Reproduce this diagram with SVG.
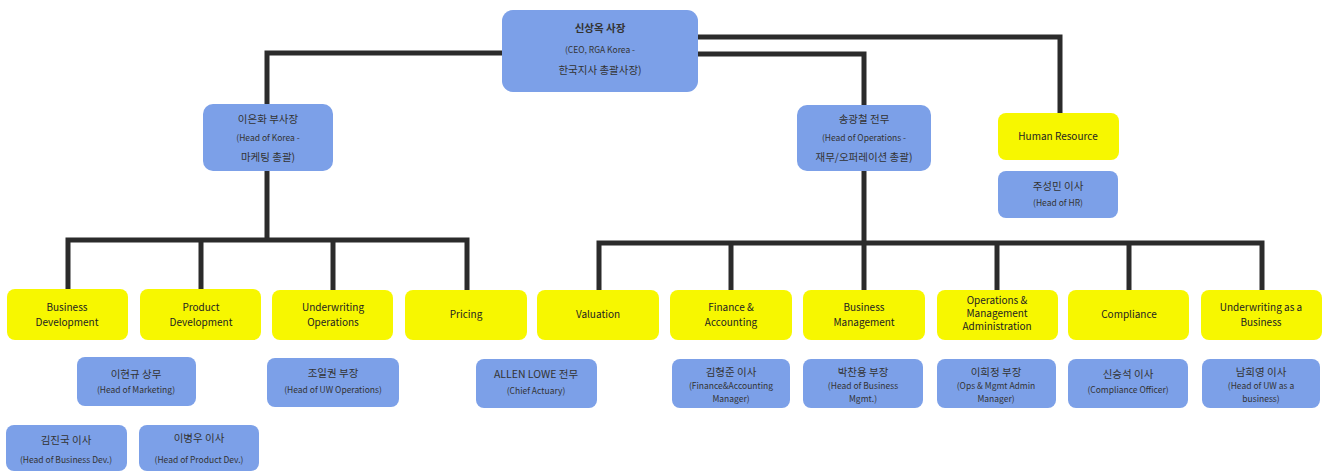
<svg xmlns="http://www.w3.org/2000/svg" width="1326" height="472" viewBox="0 0 1326 472">
<style>
.b{fill:#7ca0e8}
.y{fill:#f7f700}
text{font-family:"Noto Sans CJK KR","Liberation Sans",sans-serif;fill:#333;text-anchor:middle}
.t{font-size:10px;fill:#222}
.k{font-size:10.5px}
.e{font-size:8.5px}
.c{stroke:#2b2b2b;stroke-width:5;fill:none;stroke-linejoin:miter}
</style>
<rect width="1326" height="472" fill="#fff"/>
<g id="connectors" class="c">
<path d="M502 53 H267 V104"/>
<path d="M698 37 H1060 V113"/>
<path d="M698 54 H864 V105"/>
<path d="M267 171 V240"/>
<path d="M68 290 V240 H467 V290"/>
<path d="M201 240 V290"/>
<path d="M333 240 V290"/>
<path d="M864 171 V243"/>
<path d="M599 290 V243 H1262 V290"/>
<path d="M731 243 V290"/>
<path d="M864 243 V290"/>
<path d="M997 243 V290"/>
<path d="M1129 243 V290"/>
</g>
<g id="ceo"><rect class="b" x="502" y="10" width="196" height="82" rx="11"/>
<text class="k" x="600" y="32" font-weight="bold">신상옥 사장</text>
<text class="e" x="600" y="53">(CEO, RGA Korea -</text>
<text class="k" x="600" y="74">한국지사 총괄사장)</text></g>
<g id="korea"><rect class="b" x="203" y="104" width="130" height="67" rx="10"/>
<text class="k" x="268" y="123">이은화 부사장</text>
<text class="e" x="268" y="141">(Head of Korea -</text>
<text class="k" x="268" y="161">마케팅 총괄)</text></g>
<g id="ops"><rect class="b" x="797" y="105" width="134" height="66" rx="10"/>
<text class="k" x="864" y="123">송광철 전무</text>
<text class="e" x="864" y="141">(Head of Operations -</text>
<text class="k" x="864" y="161">재무/오퍼레이션 총괄)</text></g>
<g id="hr"><rect class="y" x="998" y="113" width="121" height="47" rx="8"/>
<text class="t" x="1058" y="140">Human Resource</text></g>
<g id="hr-head"><rect class="b" x="998" y="171" width="120" height="47" rx="8"/>
<text class="k" x="1058" y="190">주성민 이사</text>
<text class="e" x="1058" y="206">(Head of HR)</text></g>
<g id="bd"><rect class="y" x="7" y="289" width="121" height="51" rx="8"/>
<text class="t" x="67" y="311">Business</text><text class="t" x="67" y="326">Development</text></g>
<g id="pd"><rect class="y" x="140" y="289" width="121" height="51" rx="8"/>
<text class="t" x="201" y="311">Product</text><text class="t" x="201" y="326">Development</text></g>
<g id="uo"><rect class="y" x="272" y="290" width="121" height="50" rx="8"/>
<text class="t" x="333" y="311">Underwriting</text><text class="t" x="333" y="326">Operations</text></g>
<g id="pricing"><rect class="y" x="405" y="290" width="122" height="50" rx="8"/>
<text class="t" x="466" y="318">Pricing</text></g>
<g id="valuation"><rect class="y" x="537" y="290" width="122" height="50" rx="8"/>
<text class="t" x="598" y="318">Valuation</text></g>
<g id="fa"><rect class="y" x="670" y="290" width="122" height="50" rx="8"/>
<text class="t" x="731" y="311">Finance &amp;</text><text class="t" x="731" y="326">Accounting</text></g>
<g id="bm"><rect class="y" x="803" y="290" width="122" height="50" rx="8"/>
<text class="t" x="864" y="311">Business</text><text class="t" x="864" y="326">Management</text></g>
<g id="oma"><rect class="y" x="937" y="290" width="121" height="50" rx="8"/>
<text class="t" x="997" y="304" font-size="8.5">Operations &amp;</text><text class="t" x="997" y="317" font-size="8.5">Management</text><text class="t" x="997" y="330" font-size="8.5">Administration</text></g>
<g id="compliance"><rect class="y" x="1068" y="290" width="121" height="50" rx="8"/>
<text class="t" x="1129" y="318">Compliance</text></g>
<g id="uwb"><rect class="y" x="1201" y="290" width="121" height="50" rx="8"/>
<text class="t" x="1261" y="311">Underwriting as a</text><text class="t" x="1261" y="326">Business</text></g>
<g id="marketing"><rect class="b" x="77" y="357" width="119" height="49" rx="8"/>
<text class="k" x="136" y="378">이현규 상무</text><text class="e" x="136" y="393">(Head of Marketing)</text></g>
<g id="bd-head"><rect class="b" x="6" y="425" width="121" height="46" rx="8"/>
<text class="k" x="66" y="444">김진국 이사</text><text class="e" x="66" y="463">(Head of Business Dev.)</text></g>
<g id="pd-head"><rect class="b" x="139" y="425" width="120" height="46" rx="8"/>
<text class="k" x="199" y="442">이병우 이사</text><text class="e" x="199" y="463">(Head of Product Dev.)</text></g>
<g id="uo-head"><rect class="b" x="267" y="358" width="132" height="49" rx="8"/>
<text class="k" x="333" y="377">조일권 부장</text><text class="e" x="333" y="393">(Head of UW Operations)</text></g>
<g id="actuary"><rect class="b" x="476" y="359" width="121" height="49" rx="8"/>
<text class="k" x="536" y="378">ALLEN LOWE 전무</text><text class="e" x="536" y="394">(Chief Actuary)</text></g>
<g id="fa-head"><rect class="b" x="672" y="359" width="118" height="49" rx="8"/>
<text class="k" x="731" y="376">김형준 이사</text><text class="e" x="731" y="389">(Finance&amp;Accounting</text><text class="e" x="731" y="402">Manager)</text></g>
<g id="bm-head"><rect class="b" x="803" y="359" width="120" height="49" rx="8"/>
<text class="k" x="863" y="376">박찬용 부장</text><text class="e" x="863" y="389">(Head of Business</text><text class="e" x="863" y="402">Mgmt.)</text></g>
<g id="oma-head"><rect class="b" x="937" y="359" width="119" height="49" rx="8"/>
<text class="k" x="996" y="376">이희정 부장</text><text class="e" x="996" y="389">(Ops &amp; Mgmt Admin</text><text class="e" x="996" y="402">Manager)</text></g>
<g id="co-head"><rect class="b" x="1068" y="359" width="120" height="49" rx="8"/>
<text class="k" x="1128" y="378">신승석 이사</text><text class="e" x="1128" y="393">(Compliance Officer)</text></g>
<g id="uwb-head"><rect class="b" x="1202" y="359" width="118" height="49" rx="8"/>
<text class="k" x="1261" y="376">남희영 이사</text><text class="e" x="1261" y="389">(Head of UW as a</text><text class="e" x="1261" y="402">business)</text></g>
</svg>
